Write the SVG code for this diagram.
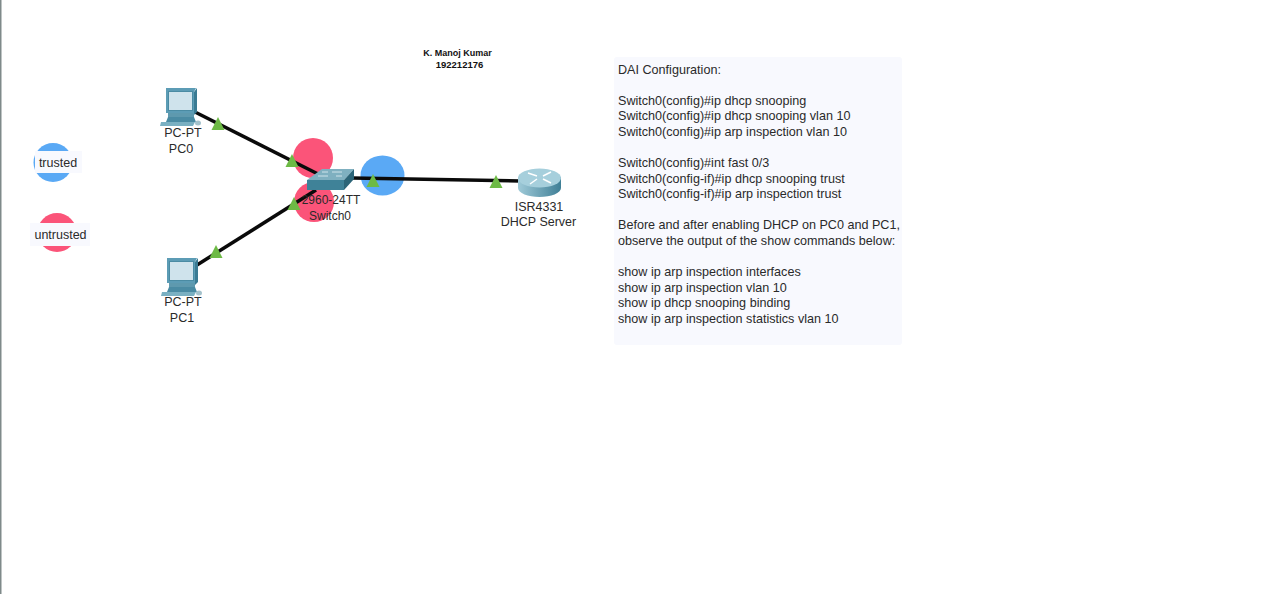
<svg xmlns="http://www.w3.org/2000/svg" width="1280" height="594" viewBox="0 0 1280 594">
<defs>
<linearGradient id="rg" x1="0" y1="0" x2="1" y2="0"><stop offset="0" stop-color="#9fcad8"/><stop offset="1" stop-color="#3f7f96"/></linearGradient>
<g id="pc">
<path d="M5 0H35L33 4V25H5Z" fill="#5c9cb5"/>
<path d="M33 4L36 0V24L33 27Z" fill="#3a7b93"/>
<rect x="7.500" y="3.500" width="24" height="19" fill="#cfe3ec" stroke="#4a8ba3"/>
<rect x="7" y="25" width="26" height="4" fill="#5e99ae"/>
<path d="M7 29H33L35 34H5Z" fill="#4a8ba3"/>
<path d="M0 34H34L32 38H-1Z" fill="#7ab0c2"/>
<ellipse cx="37" cy="35" rx="3" ry="2.500" fill="#a4c2cc"/>
</g>
</defs>
<style>
text{font-family:"Liberation Sans",Arial,sans-serif;fill:#2a2a2a}
.lbl{font-size:12.500px;text-anchor:middle}
.sw{font-size:12px}
.cfg{font-size:12.600px}
.link{stroke:#0a0a0a;stroke-width:3.500;fill:none}
.tri{fill:#6dba45}
.red{fill:#fb5479}
.blue{fill:#5aa9f5}
.bg{fill:#f8f9fe}
</style>
<rect x="0" y="0" width="1.500" height="594" fill="#7f8a8a"/>

<g id="marker-circles">
<circle cx="313" cy="158" r="20" class="red"/>
<circle cx="314" cy="202" r="20" class="red"/>
<ellipse cx="382.500" cy="175.500" rx="22" ry="20" class="blue"/>
</g>

<g id="connectors">
<line class="link" x1="195" y1="112" x2="318" y2="174"/>
<line class="link" x1="197" y1="265" x2="316" y2="190"/>
<line class="link" x1="352" y1="178" x2="520" y2="181"/>
<polygon class="tri" points="218,117 224.500,130 211.500,130"/>
<polygon class="tri" points="292,154 298.500,167 285.500,167"/>
<polygon class="tri" points="294,197 300.500,210 287.500,210"/>
<polygon class="tri" points="216,245 222.500,258 209.500,258"/>
<polygon class="tri" points="373,174 379.500,187 366.500,187"/>
<polygon class="tri" points="496,175 502.500,188 489.500,188"/>
</g>

<g id="PC0">
<use href="#pc" x="161" y="88"/>
<text class="lbl" x="183" y="137">PC-PT</text>
<text class="lbl" x="181" y="153">PC0</text>
</g>
<g id="PC1">
<use href="#pc" x="162" y="258"/>
<text class="lbl" x="183" y="306">PC-PT</text>
<text class="lbl" x="182" y="322">PC1</text>
</g>
<g id="Switch0">
<path d="M307 180L322 169H354L344 180Z" fill="#7fb0c0"/>
<path d="M307 180H344V190H307Z" fill="#3f8298"/>
<path d="M344 180L354 169V179L344 190Z" fill="#2c6578"/>
<path d="M318 176H328M332 172H342M322 172H328M336 176H342" stroke="#cfe3ea" stroke-width="1"/>
<text class="lbl sw" x="331" y="204">2960-24TT</text>
<text class="lbl sw" x="330" y="220">Switch0</text>
</g>
<g id="DHCP-Server">
<path d="M518 177V188C518 193 528 197 539.500 197S561 193 561 188V177Z" fill="url(#rg)"/>
<ellipse cx="539.500" cy="178" rx="21.500" ry="9.500" fill="#a6cfdc"/>
<path d="M528 173L537 176M551 183L543 179M530 184L537 179M551 172L543 176" stroke="#fff" stroke-width="1.500"/>
<text class="lbl" x="539" y="211">ISR4331</text>
<text class="lbl" x="538.500" y="226">DHCP Server</text>
</g>

<g id="trusted">
<circle cx="53" cy="162.500" r="19.500" class="blue"/>
<rect x="35" y="151" width="47" height="22" class="bg"/>
<text class="lbl" x="58" y="167">trusted</text>
</g>
<g id="untrusted">
<circle cx="57" cy="232.500" r="19.500" class="red"/>
<rect x="30" y="223" width="60" height="23" class="bg"/>
<text class="lbl" x="60.500" y="239">untrusted</text>
</g>

<g id="author">
<text x="457.500" y="56" font-size="9" font-weight="bold" text-anchor="middle" style="fill:#111">K. Manoj Kumar</text>
<text x="459.500" y="68" font-size="9.500" font-weight="bold" text-anchor="middle" style="fill:#111">192212176</text>
</g>

<g id="config-note">
<rect x="614" y="57" width="288" height="288" rx="3" class="bg"/>
<text class="cfg" x="618" y="74">DAI Configuration:</text>
<text class="cfg" x="618" y="105">Switch0(config)#ip dhcp snooping</text>
<text class="cfg" x="618" y="120">Switch0(config)#ip dhcp snooping vlan 10</text>
<text class="cfg" x="618" y="136">Switch0(config)#ip arp inspection vlan 10</text>
<text class="cfg" x="618" y="167">Switch0(config)#int fast 0/3</text>
<text class="cfg" x="618" y="183">Switch0(config-if)#ip dhcp snooping trust</text>
<text class="cfg" x="618" y="198">Switch0(config-if)#ip arp inspection trust</text>
<text class="cfg" x="618" y="229">Before and after enabling DHCP on PC0 and PC1,</text>
<text class="cfg" x="618" y="245">observe the output of the show commands below:</text>
<text class="cfg" x="618" y="276">show ip arp inspection interfaces</text>
<text class="cfg" x="618" y="292">show ip arp inspection vlan 10</text>
<text class="cfg" x="618" y="307">show ip dhcp snooping binding</text>
<text class="cfg" x="618" y="323">show ip arp inspection statistics vlan 10</text>
</g>
</svg>
